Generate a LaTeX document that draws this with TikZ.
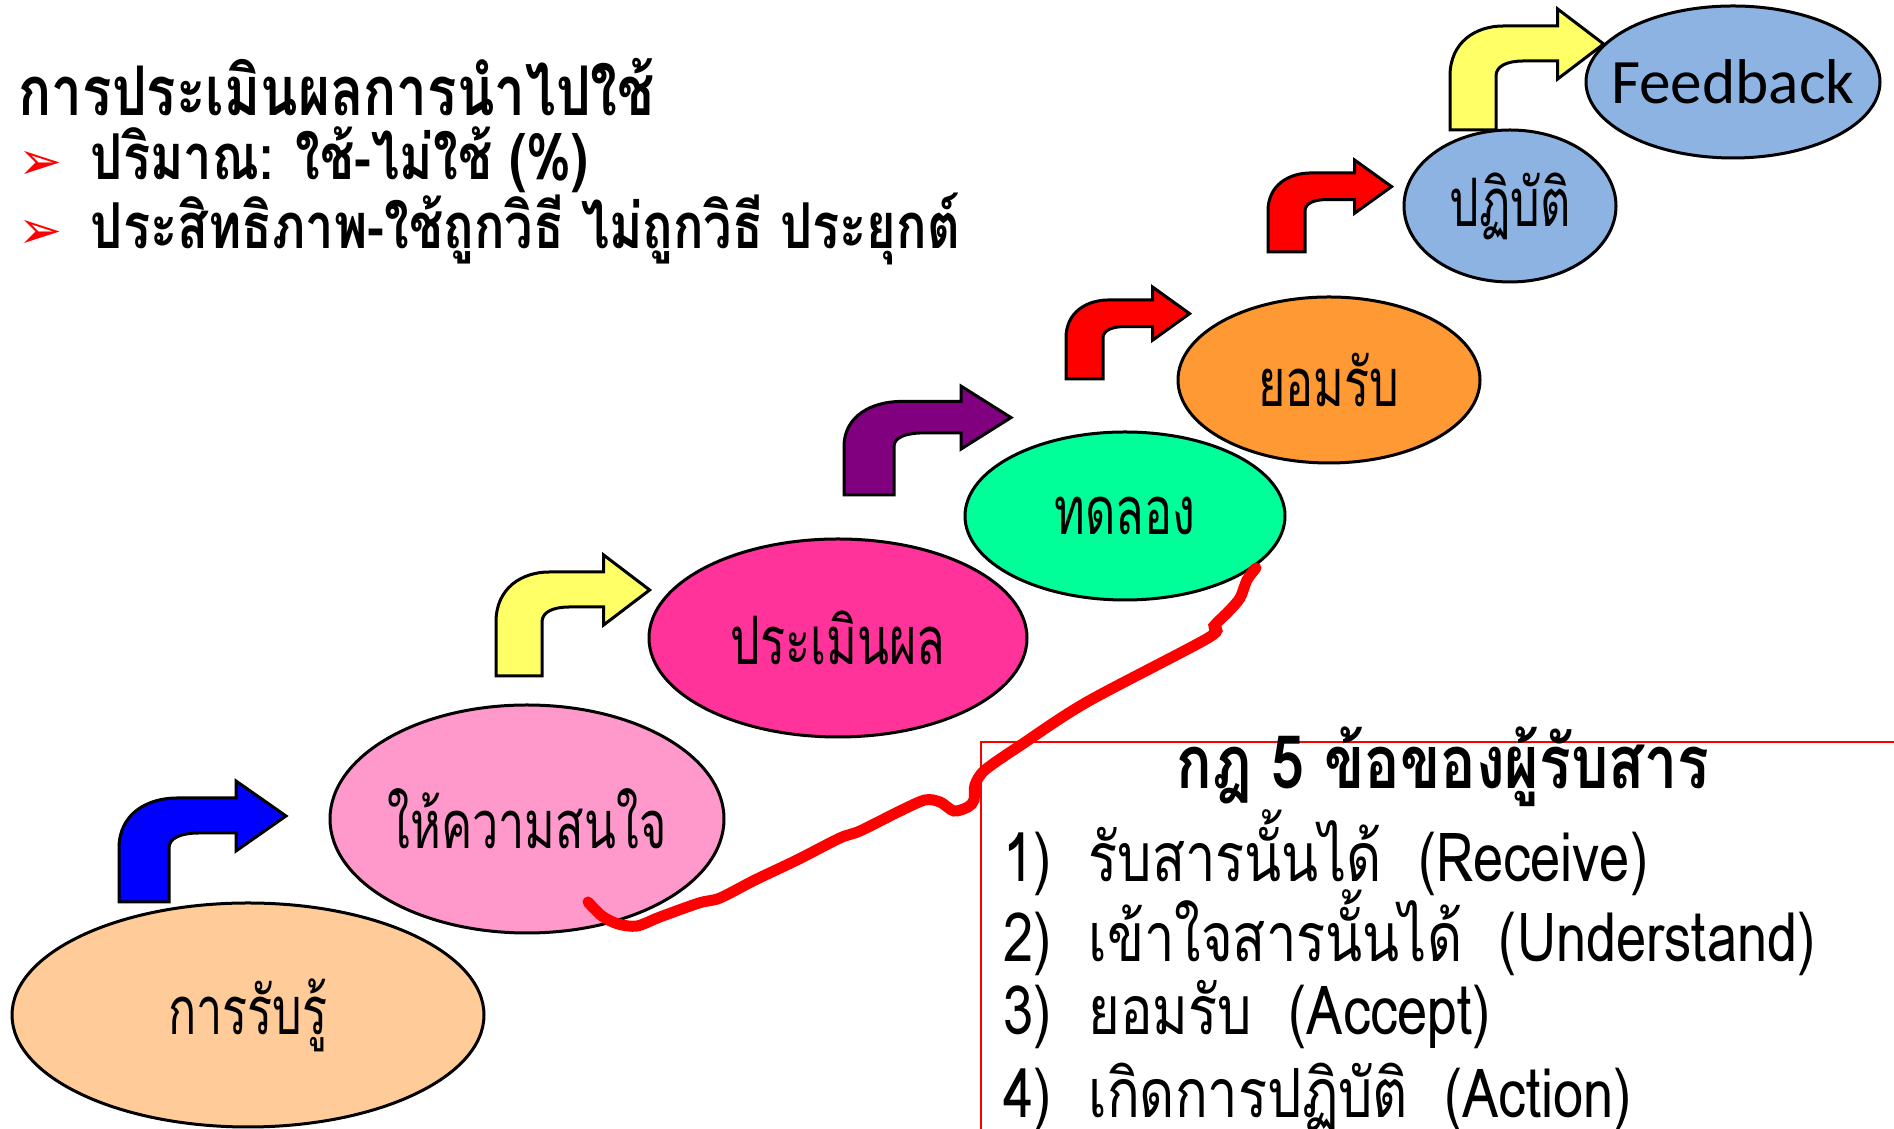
\documentclass[tikz,border=0pt]{standalone}
\usepackage{fontspec}
\setmainfont[Script=Thai]{Loma}
\newfontfamily\thainarrow[Script=Thai,FakeStretch=0.7]{Loma}
\newfontfamily\thaicond[Script=Thai,FakeStretch=0.8]{Loma}
\newfontfamily\calfont{Carlito}
\newfontfamily\symfont{DejaVu Sans}
\usetikzlibrary{shapes.geometric}

\definecolor{peach}{HTML}{FFCC99}
\definecolor{lightpink}{HTML}{FF99CC}
\definecolor{hotpink}{HTML}{FF3399}
\definecolor{mint}{HTML}{00FF99}
\definecolor{orangish}{HTML}{FF9933}
\definecolor{skyblue}{HTML}{8DB3E2}
\definecolor{lemon}{HTML}{FFFF66}
\definecolor{plum}{HTML}{800080}

\tikzset{
  stage/.style={ellipse, draw, line width=0.3mm, inner sep=0pt,
    font=\thainarrow\fontsize{19}{23}\selectfont},
  turn/.style={draw, line width=0.3mm, line join=miter},
  headline/.style={anchor=west, inner sep=0pt,
    font=\thaicond\bfseries\fontsize{19.5}{23}\selectfont},
  bulletline/.style={anchor=west, inner sep=0pt,
    font=\thaicond\bfseries\fontsize{18}{22}\selectfont},
  ruleline/.style={anchor=west, inner sep=0pt,
    font=\thaicond\fontsize{19.3}{23}\selectfont},
}

% bent arrow: x, y of shaft foot, xscale, yscale, fill
\newcommand\bentarrow[5]{%
  \filldraw[turn, fill=#5, shift={(#1,#2)}, xscale=#3, yscale=#4]
    (0,0) -- (0,-54) .. controls (0,-88) and (28,-104) .. (58,-104)
    -- (117,-104) -- (117,-121) -- (167,-86) -- (117,-51) -- (117,-69)
    -- (80,-69) .. controls (62,-69) and (50,-64) .. (50,-54) -- (50,0) -- cycle;}

% label that does not widen its ellipse
\newcommand\inside[1]{\makebox[0pt]{#1}}
\newcommand\redmark{\textcolor{red}{\symfont\fontsize{15}{15}\selectfont ➢}}

\begin{document}
\begin{tikzpicture}[x=0.1mm, y=-0.1mm]
    \useasboundingbox (0,0) rectangle (1894,1129);

% heading top left
    \node[headline] (title) at (18,87) {การประเมินผลการนำไปใช้};
    \node[bulletline] (amount) at (18,160) {\redmark\hspace{8pt}ปริมาณ: ใช้-ไม่ใช้ (\%)};
    \node[bulletline] (quality) at (18,229) {\redmark\hspace{8pt}ประสิทธิภาพ-ใช้ถูกวิธี ไม่ถูกวิธี ประยุกต์};

% stages
    \node[stage, fill=peach, minimum width=47.2mm, minimum height=22.4mm] (rubru) at (248,1015) {\inside{การรับรู้}};
    \node[stage, fill=lightpink, minimum width=39.4mm, minimum height=22.8mm] (sonjai) at (527,819) {\inside{ให้ความสนใจ}};
    \node[stage, fill=hotpink, minimum width=37.8mm, minimum height=19.8mm] (pramoen) at (838,638) {\inside{ประเมินผล}};
    \node[stage, fill=mint, minimum width=32mm, minimum height=16.8mm] (thodlong) at (1125,516) {\inside{ทดลอง}};
    \node[stage, fill=orangish, minimum width=30.2mm, minimum height=16.6mm] (yomrap) at (1329,380) {\inside{ยอมรับ}};
    \node[stage, fill=skyblue, minimum width=21.2mm, minimum height=15.2mm] (patibat) at (1510,206) {\inside{ปฏิบัติ}};
    \node[stage, fill=skyblue, minimum width=29.4mm, minimum height=15.2mm,
      font=\calfont\fontsize{18}{22}\selectfont] (feedback) at (1733,82) {\inside{Feedback}};

% turning arrows
    \bentarrow{119}{902}{1}{1}{blue}
    \bentarrow{496}{676}{0.92}{1}{lemon}
    \bentarrow{844}{495}{1}{0.9}{plum}
    \bentarrow{1066}{379}{0.74}{0.76}{red}
    \bentarrow{1268}{252}{0.74}{0.76}{red}
    \bentarrow{1450}{130}{0.92}{1}{lemon}

% rules box
    \draw[red, line width=0.2mm] (981,1129) -- (981,742) -- (1894,742);
    \node[headline, anchor=center, font=\thaicond\bfseries\fontsize{21}{25}\selectfont] (rules) at (1443,767) {กฎ 5 ข้อของผู้รับสาร};
    \node[ruleline] (rule1) at (1003,853) {1)\ \ รับสารนั้นได้\ \ (Receive)};
    \node[ruleline] (rule2) at (1003,933) {2)\ \ เข้าใจสารนั้นได้\ \ (Understand)};
    \node[ruleline] (rule3) at (1003,1015) {3)\ \ ยอมรับ\ \ (Accept)};
    \node[ruleline] (rule4) at (1003,1097) {4)\ \ เกิดการปฏิบัติ\ \ (Action)};

% hand drawn line
    \draw[red, line width=1.1mm, line cap=round] plot[smooth, tension=0.5] coordinates {
      (588,902) (602,916) (618,924) (637,926) (660,917) (699,903) (720,898)
      (755,880) (797,860) (840,838) (860,831) (900,811) (925,800) (940,802)
      (954,811) (968,807) (974,800) (975,785) (985,770) (1021,745) (1087,702)
      (1208,638) (1214,626) (1228,612) (1240,598) (1247,580) (1256,568)};
\end{tikzpicture}
\end{document}
